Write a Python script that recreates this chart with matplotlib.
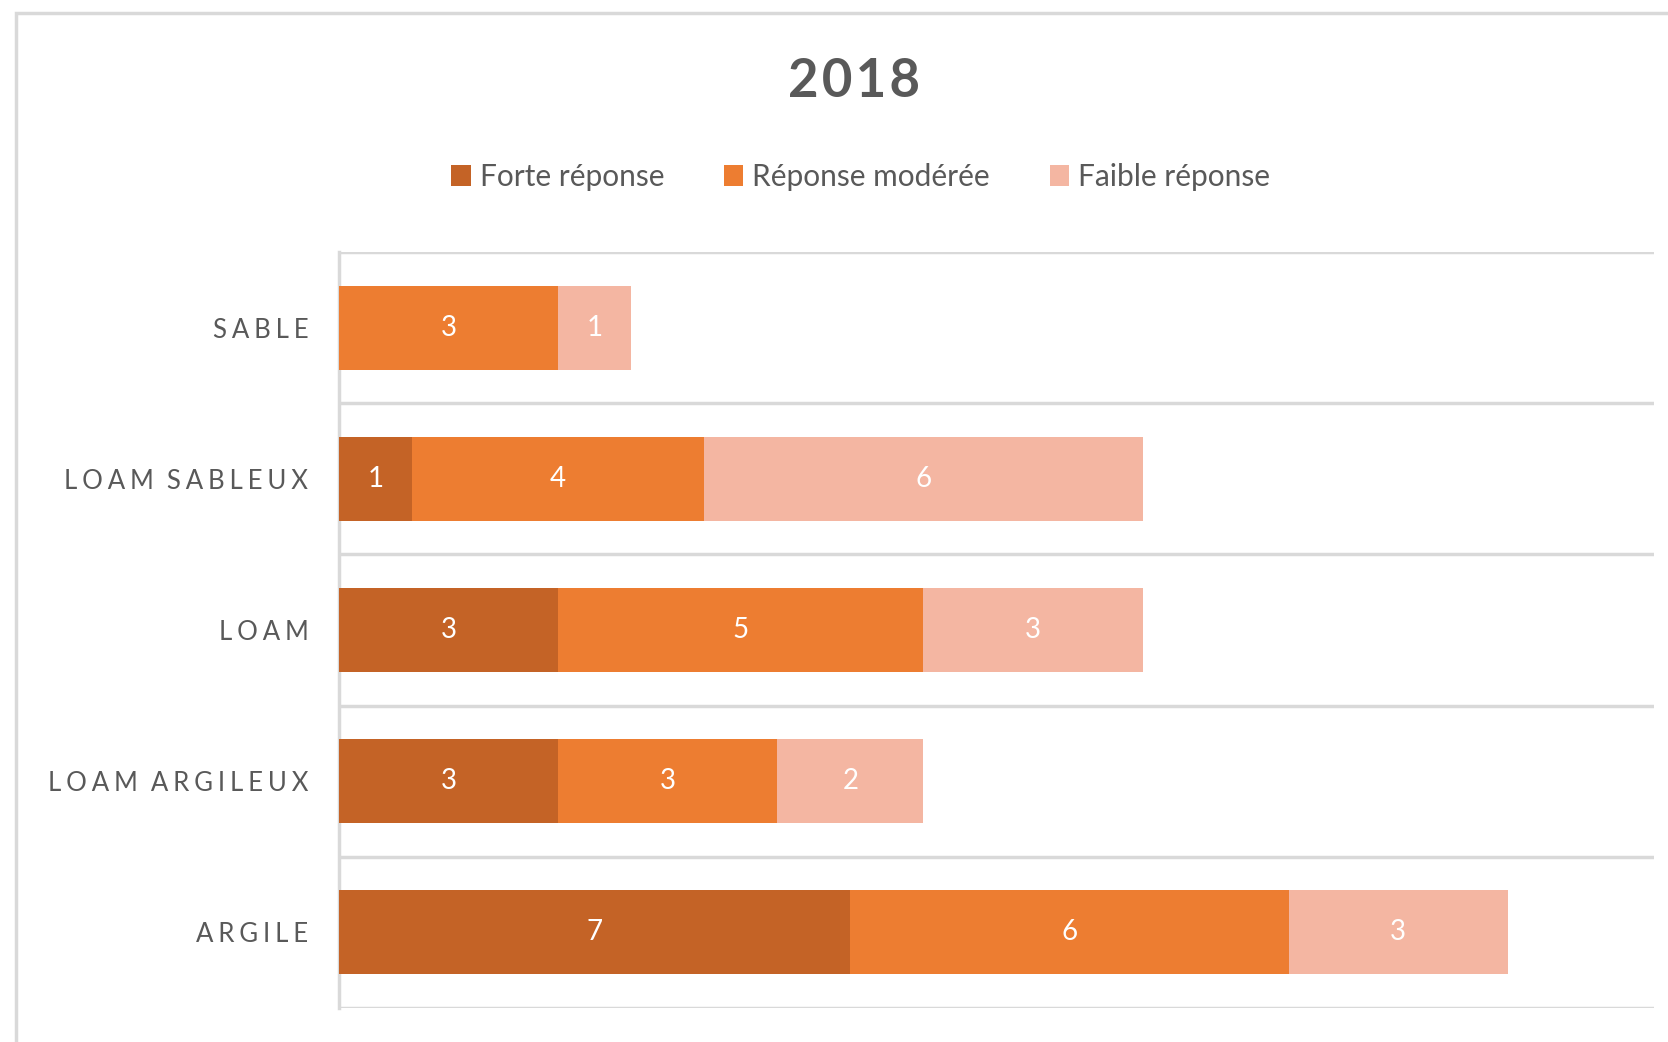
import numpy as np
import matplotlib.pyplot as plt
from matplotlib.patches import Rectangle

# data
soils = ["SABLE", "LOAM SABLEUX", "LOAM", "LOAM ARGILEUX", "ARGILE"]
forte = [0, 1, 3, 3, 7]
moderee = [3, 4, 5, 3, 6]
faible = [1, 6, 3, 2, 3]
series_names = ["Forte réponse", "Réponse modérée", "Faible réponse"]
colors = ["#C46326", "#ED7D31", "#F4B6A2"]
title = "2018"

GRAY = "#595959"
GRID = "#D9D9D9"
FONT = ["Lato", "DejaVu Sans"]


def spaced(s, sep="\u2009", gap="\u2009\u2009\u2009\u2009"):
    # excel-like letter spacing
    return gap.join(sep.join(w) for w in s.split(" "))


fig = plt.figure(figsize=(16.68, 10.42), dpi=100)
fig.patch.set_facecolor("white")

# chart area frame (cropped on the right/bottom in the reference)
fig.patches.append(Rectangle((16 / 1668, -0.2), 1.2, 1.2 - 13 / 1042,
                             transform=fig.transFigure, fill=False,
                             edgecolor=GRID, lw=2.5, zorder=0))

ax = fig.add_axes([339 / 1668, 34 / 1042, (1654 - 339) / 1668, (1008 - 252) / 1042])

y = np.arange(len(soils))
left = np.zeros(len(soils))
for vals, name, c in zip([forte, moderee, faible], series_names, colors):
    vals = np.array(vals, dtype=float)
    bars = ax.barh(y, vals, left=left, height=0.555, color=c, label=name,
                   edgecolor="none", zorder=3)
    labels = [str(int(v)) if v > 0 else "" for v in vals]
    ax.bar_label(bars, labels=labels, label_type="center", color="white",
                 fontsize=20, family=FONT, zorder=4)
    left += vals

ax.set_xlim(0, 18)
ax.set_ylim(len(soils) - 0.5, -0.5)
ax.set_xticks([])
ax.set_yticks(y)
ax.set_yticklabels([spaced(s, "\u2009\u200a") for s in soils], family=FONT,
                   fontsize=18.5, color=GRAY)
ax.tick_params(axis="y", length=0, pad=22)
ax.set_yticks(np.arange(len(soils) + 1) - 0.5, minor=True)
ax.tick_params(axis="y", which="minor", length=0)
ax.grid(axis="y", which="minor", color=GRID, lw=2.5, zorder=1)
ax.grid(axis="y", which="major", visible=False)
for s in ["top", "right", "bottom"]:
    ax.spines[s].set_visible(False)
ax.spines["left"].set_color(GRID)
ax.spines["left"].set_linewidth(2.5)

fig.text(0.512, 0.922, spaced(title, "\u200a"), ha="center", va="center",
         fontsize=38, fontweight="bold", color=GRAY, family=FONT)

leg = fig.legend(loc="center", bbox_to_anchor=(0.516, 0.830), ncol=3,
                 frameon=False, prop={"family": FONT, "size": 21.5},
                 handlelength=0.65, handleheight=0.7, handletextpad=0.3,
                 columnspacing=2.0)
for t in leg.get_texts():
    t.set_color(GRAY)

fig.savefig("out.png", dpi=100)
